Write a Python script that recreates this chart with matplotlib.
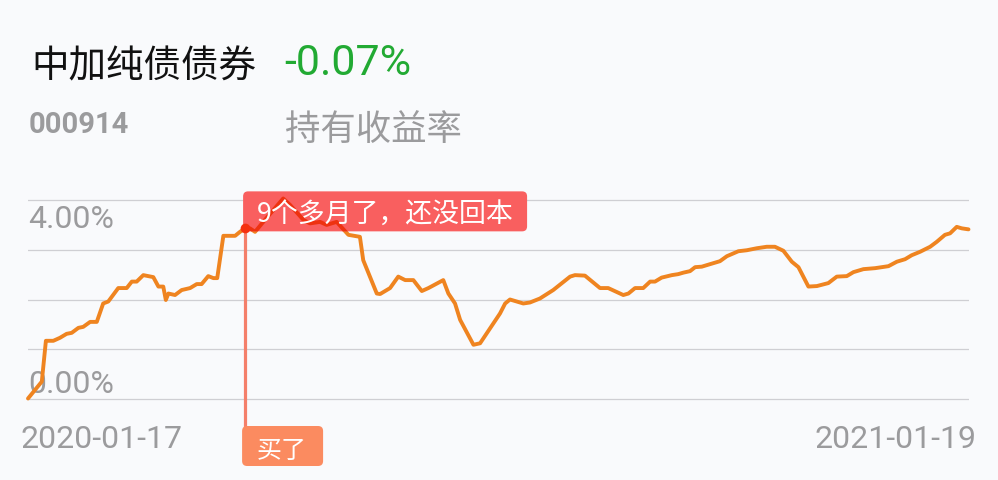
import matplotlib
matplotlib.use("Agg")
import matplotlib.pyplot as plt
from matplotlib.patches import FancyBboxPatch
from matplotlib.transforms import IdentityTransform

# ---------------- data ----------------
fund_name = "中加纯债债券"
fund_code = "000914"
holding_return = "-0.07%"
holding_label = "持有收益率"
start_label = "2020-01-17"
end_label = "2021-01-19"
total_days = 368
grid_values = [0, 1, 2, 3, 4]
top_label = "4.00%"
bottom_label = "0.00%"
note_text = "9个多月了，还没回本"
buy_text = "买了"
buy_index = 34

days = [0.0, 5.4, 7.0, 9.9, 12.5, 15.1, 17.1, 19.7, 21.6, 24.3, 26.9, 29.4, 31.4,
        35.3, 38.6, 40.6, 42.5, 45.1, 49.0, 51.0, 52.9, 53.9, 54.9, 57.5, 60.1,
        63.4, 66.0, 67.9, 70.5, 72.5, 74.0, 76.4, 81.0, 82.9, 84.9, 86.8, 88.8,
        92.0, 99.8, 102.5, 107.7, 110.3, 114.2, 116.8, 120.7, 125.3, 129.8, 131.1,
        136.4, 137.7, 141.6, 144.8, 147.5, 150.7, 154.0, 156.6, 162.4, 164.4,
        167.0, 169.0, 174.2, 176.8, 180.7, 184.6, 186.6, 188.5, 193.7, 196.3,
        200.2, 205.4, 212.0, 213.9, 217.8, 223.7, 226.9, 232.8, 234.8, 237.4,
        240.6, 243.3, 245.2, 247.8, 251.8, 254.3, 256.3, 258.9, 260.9, 263.5,
        266.7, 270.6, 273.3, 277.8, 281.1, 285.0, 288.9, 292.1, 295.4, 298.7,
        301.3, 305.2, 308.5, 313.0, 316.3, 320.2, 322.8, 326.7, 331.3, 336.5,
        339.8, 343.0, 345.6, 348.9, 352.8, 355.4, 358.6, 360.6, 363.2, 365.2,
        367.8]
returns = [0.01, 0.35, 1.17, 1.17, 1.23, 1.31, 1.33, 1.43, 1.45, 1.55, 1.55, 1.92,
           1.96, 2.23, 2.23, 2.36, 2.36, 2.49, 2.45, 2.26, 2.26, 1.99, 2.12, 2.09,
           2.19, 2.23, 2.31, 2.31, 2.47, 2.43, 2.43, 3.28, 3.28, 3.36, 3.43, 3.43,
           3.36, 3.56, 4.03, 3.90, 3.60, 3.53, 3.56, 3.50, 3.56, 3.30, 3.26, 2.79,
           2.12, 2.11, 2.23, 2.46, 2.39, 2.39, 2.17, 2.23, 2.39, 2.12, 1.92, 1.59,
           1.09, 1.12, 1.42, 1.72, 1.92, 2.00, 1.92, 1.94, 2.02, 2.19, 2.46, 2.49,
           2.48, 2.23, 2.23, 2.09, 2.12, 2.23, 2.23, 2.36, 2.36, 2.44, 2.49, 2.51,
           2.54, 2.57, 2.65, 2.66, 2.71, 2.77, 2.87, 2.97, 2.99, 3.03, 3.06, 3.06,
           2.98, 2.76, 2.65, 2.26, 2.27, 2.33, 2.46, 2.47, 2.55, 2.61, 2.63, 2.67,
           2.76, 2.81, 2.89, 2.96, 3.06, 3.16, 3.30, 3.33, 3.46, 3.43, 3.41]

# ---------------- style ----------------
W, H = 998, 480
BG = "#f9fafc"
ORANGE = "#ef8420"
GRAY = "#9b9b9d"
CJK = ["Noto Sans CJK SC", "DejaVu Sans"]
LAT = ["Roboto", "Noto Sans CJK SC", "DejaVu Sans"]
LW = 2.8

fig = plt.figure(figsize=(W / 100, H / 100), dpi=100, facecolor=BG)
ax = fig.add_axes([28 / W, 60 / H, 941 / W, 230 / H])
ax.set_facecolor("none")
ax.set_xlim(0, total_days)
ax.set_ylim(-0.422, 4.201)
ax.axis("off")

for g in grid_values:
    ax.axhline(g, color="#cfcfd3", lw=0.9, zorder=1)

ax.plot(days, returns, color=ORANGE, lw=LW, zorder=3, clip_on=False,
        solid_joinstyle="round", solid_capstyle="round")

ax.annotate(top_label, xy=(0, grid_values[-1]), xytext=(0, -28),
            textcoords="offset pixels", ha="left", va="baseline",
            fontsize=23, color=GRAY, family=LAT, zorder=2)
ax.annotate(bottom_label, xy=(0, grid_values[0]), xytext=(0, 6),
            textcoords="offset pixels", ha="left", va="baseline",
            fontsize=23, color=GRAY, family=LAT, zorder=2)

ax.annotate(start_label, xy=(0, grid_values[0]), xytext=(-8, -49),
            textcoords="offset pixels", ha="left", va="baseline",
            fontsize=23, color=GRAY, family=LAT, annotation_clip=False)
ax.annotate(end_label, xy=(total_days, grid_values[0]), xytext=(8, -49),
            textcoords="offset pixels", ha="right", va="baseline",
            fontsize=23, color=GRAY, family=LAT, annotation_clip=False)

# header
fig.text(31 / W, 1 - 77 / H, fund_name, fontsize=27, family=CJK,
         color="#111111", va="baseline")
fig.text(284 / W, 1 - 75 / H, holding_return, fontsize=31, family=LAT,
         color="#22aa33", va="baseline")
fig.text(29 / W, 1 - 133 / H, fund_code, fontsize=21, family=LAT,
         weight="bold", color=GRAY, va="baseline")
fig.text(285 / W, 1 - 140 / H, holding_label, fontsize=25.5, family=CJK,
         color=GRAY, va="baseline")

# buy-point annotations (display pixel offsets from the data point)
bx, by = ax.transData.transform((days[buy_index], returns[buy_index]))
ident = IdentityTransform()
axis_bottom = ax.transAxes.transform((0, 0))[1]

ax.plot([bx, bx], [by, axis_bottom - 7], color="#f47f6a", lw=2.3,
        transform=ident, zorder=3.5, clip_on=False)

note_box = FancyBboxPatch((bx - 2, by - 3), 284, 40,
                          boxstyle="round,pad=0,rounding_size=5",
                          facecolor="#f95f5f", edgecolor="none",
                          transform=ident, zorder=4, clip_on=False)
ax.add_patch(note_box)
# line seen through the (multiply-blended) label box
tinted, = ax.plot(days, returns, color="#ee3210", lw=LW, zorder=4.5,
                  solid_joinstyle="round", solid_capstyle="round")
tinted.set_clip_path(note_box)

ax.text(bx + 12, by + 7, note_text, fontsize=19.4, family=CJK, color="white",
        va="baseline", ha="left", transform=ident, zorder=6, clip_on=False)

ax.plot([bx], [by], marker="o", markersize=7, color="#f5300f",
        markeredgewidth=0, transform=ident, zorder=5, clip_on=False)

buy_box = FancyBboxPatch((bx - 3, axis_bottom - 46), 81, 40,
                         boxstyle="round,pad=0,rounding_size=5",
                         facecolor="#fb8b60", edgecolor="none",
                         transform=ident, zorder=4, clip_on=False)
ax.add_patch(buy_box)
ax.text(bx + 37, axis_bottom - 38, buy_text, fontsize=18, family=CJK,
        color="white", va="baseline", ha="center", transform=ident, zorder=6,
        clip_on=False)

fig.savefig("out.png", dpi=100, facecolor=BG)
